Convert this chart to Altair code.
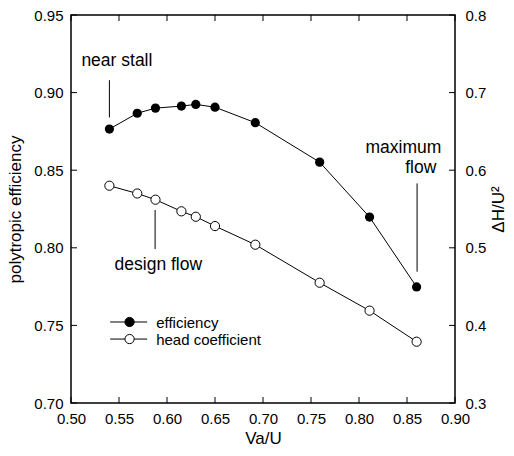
import altair as alt
import pandas as pd

# ---- data ----
va_u = [0.54, 0.569, 0.588, 0.615, 0.630, 0.650, 0.692, 0.759, 0.811, 0.860]
efficiency = [0.8765, 0.8867, 0.8900, 0.8913, 0.8924, 0.8906, 0.8806, 0.8552, 0.8198, 0.7748]
head_coef = [0.580, 0.570, 0.562, 0.547, 0.540, 0.528, 0.504, 0.455, 0.419, 0.379]

x_ticks = [0.50, 0.55, 0.60, 0.65, 0.70, 0.75, 0.80, 0.85, 0.90]
yl_ticks = [0.70, 0.75, 0.80, 0.85, 0.90, 0.95]
yr_ticks = [0.3, 0.4, 0.5, 0.6, 0.7, 0.8]

ann_text = ["near stall", "design flow", "maximum", "flow"]
ann_x = [0.5478, 0.591, 0.8462, 0.8644]
ann_y = [0.9171, 0.7857, 0.8609, 0.8484]

lead_x = [0.540, 0.5876, 0.8605]
lead_y1 = [0.908, 0.8244, 0.8415]
lead_y2 = [0.884, 0.7992, 0.7846]

leg_label = ["efficiency", "head coefficient"]
leg_filled = ["black", "white"]
leg_sym_y = [0.7522, 0.7412]
leg_text_y = [0.7485, 0.7374]
leg_x0, leg_x1, leg_xc, leg_xt = 0.5408, 0.5793, 0.561, 0.5887

FONT = "Liberation Sans"
W, H, TICK = 384, 388, 6
XD = [0.5, 0.9]
YLD = [0.70, 0.95]
YRD = [0.3, 0.8]

# tick length (pixels) expressed in each scale's units
tx = TICK * (XD[1] - XD[0]) / W
tyl = TICK * (YLD[1] - YLD[0]) / H
tyr = TICK * (YRD[1] - YRD[0]) / H

eff_df = pd.DataFrame({"x": va_u, "y": efficiency})
head_df = pd.DataFrame({"x": va_u, "y": head_coef})
ann_df = pd.DataFrame({"x": ann_x, "y": ann_y, "t": ann_text})
lead_df = pd.DataFrame({"x": lead_x, "y": lead_y1, "y2": lead_y2})
leg_df = pd.DataFrame({
    "x": [leg_x0] * 2, "x2": [leg_x1] * 2, "xc": [leg_xc] * 2, "xt": [leg_xt] * 2,
    "y": leg_sym_y, "yt": leg_text_y, "label": leg_label, "fill": leg_filled,
})
xtb_df = pd.DataFrame({"x": x_ticks, "y": YLD[0], "y2": YLD[0] + tyl})
xtt_df = pd.DataFrame({"x": x_ticks, "y": YLD[1], "y2": YLD[1] - tyl})
ylt_df = pd.DataFrame({"y": yl_ticks, "x": XD[0], "x2": XD[0] + tx})
yrt_df = pd.DataFrame({"y": yr_ticks, "x": XD[1], "x2": XD[1] - tx})

xscale = alt.Scale(domain=XD, nice=False, zero=False)
ylscale = alt.Scale(domain=YLD, nice=False, zero=False)
yrscale = alt.Scale(domain=YRD, nice=False, zero=False)

common_axis = dict(domain=False, ticks=False, labelFlush=False,
                   labelFont=FONT, labelFontSize=15, labelColor="black",
                   titleFont=FONT, titleFontSize=17, titleFontWeight="normal",
                   titleColor="black", grid=False)

xaxis_b = alt.Axis(orient="bottom", values=x_ticks, format=".2f", title="Va/U",
                   labelPadding=8, titlePadding=4, **common_axis)
ylaxis = alt.Axis(orient="left", values=yl_ticks, format=".2f", title="polytropic efficiency",
                  labelPadding=8, titlePadding=9, **common_axis)
yraxis = alt.Axis(orient="right", values=yr_ticks, format=".1f", title="ΔH/U²",
                  labelPadding=10, titlePadding=22, titleAngle=270, **common_axis)


def X(field="x"):
    return alt.X(f"{field}:Q", scale=xscale, axis=xaxis_b)


def YL(field="y"):
    return alt.Y(f"{field}:Q", scale=ylscale, axis=ylaxis)


def YR(field="y"):
    return alt.Y(f"{field}:Q", scale=yrscale, axis=yraxis)


tick_style = dict(color="black", strokeWidth=1)

# inward ticks on all four sides of the frame
xt_bottom = alt.Chart(xtb_df).mark_rule(**tick_style).encode(x=X(), y=YL(), y2="y2:Q")
xt_top = alt.Chart(xtt_df).mark_rule(**tick_style).encode(x=X(), y=YL(), y2="y2:Q")
ylt = alt.Chart(ylt_df).mark_rule(**tick_style).encode(x=X(), x2="x2:Q", y=YL())
yrt = alt.Chart(yrt_df).mark_rule(**tick_style).encode(x=X(), x2="x2:Q", y=YR())

eff_line = alt.Chart(eff_df).mark_line(color="black", strokeWidth=1).encode(x=X(), y=YL())
eff_pts = alt.Chart(eff_df).mark_point(filled=True, color="black", size=85, opacity=1).encode(x=X(), y=YL())

ann = alt.Chart(ann_df).mark_text(font=FONT, fontSize=17.5, color="black",
                                  align="center", baseline="alphabetic").encode(
    x=X(), y=YL(), text="t:N")
leads = alt.Chart(lead_df).mark_rule(color="black", strokeWidth=1).encode(
    x=X(), y=YL(), y2="y2:Q")

leg_rule = alt.Chart(leg_df).mark_rule(color="black", strokeWidth=1).encode(
    x=X(), x2="x2:Q", y=YL())
leg_pt = alt.Chart(leg_df).mark_point(shape="circle", size=85, stroke="black",
                                      strokeWidth=1, opacity=1).encode(
    x=X("xc"), y=YL(), fill=alt.Fill("fill:N", scale=None))
leg_txt = alt.Chart(leg_df).mark_text(font=FONT, fontSize=15, color="black",
                                      align="left", baseline="alphabetic").encode(
    x=X("xt"), y=YL("yt"), text="label:N")

left_layer = alt.layer(xt_bottom, xt_top, ylt, eff_line, eff_pts, leads, ann,
                       leg_rule, leg_pt, leg_txt)

head_line = alt.Chart(head_df).mark_line(color="black", strokeWidth=1).encode(
    x=X(), y=YR())
head_pts = alt.Chart(head_df).mark_point(shape="circle", size=85, fill="white",
                                         stroke="black", strokeWidth=1, opacity=1).encode(
    x=X(), y=YR())
right_layer = alt.layer(yrt, head_line, head_pts)

chart = alt.layer(left_layer, right_layer).resolve_scale(
    y="independent"
).properties(
    width=W, height=H,
    autosize=alt.AutoSizeParams(type="none"),
    padding={"left": 71, "top": 15, "right": 59, "bottom": 53},
    background="white",
).configure_view(stroke="black", strokeWidth=1.5)

chart.save("out.html", embed_options={"renderer": "svg", "actions": False})
